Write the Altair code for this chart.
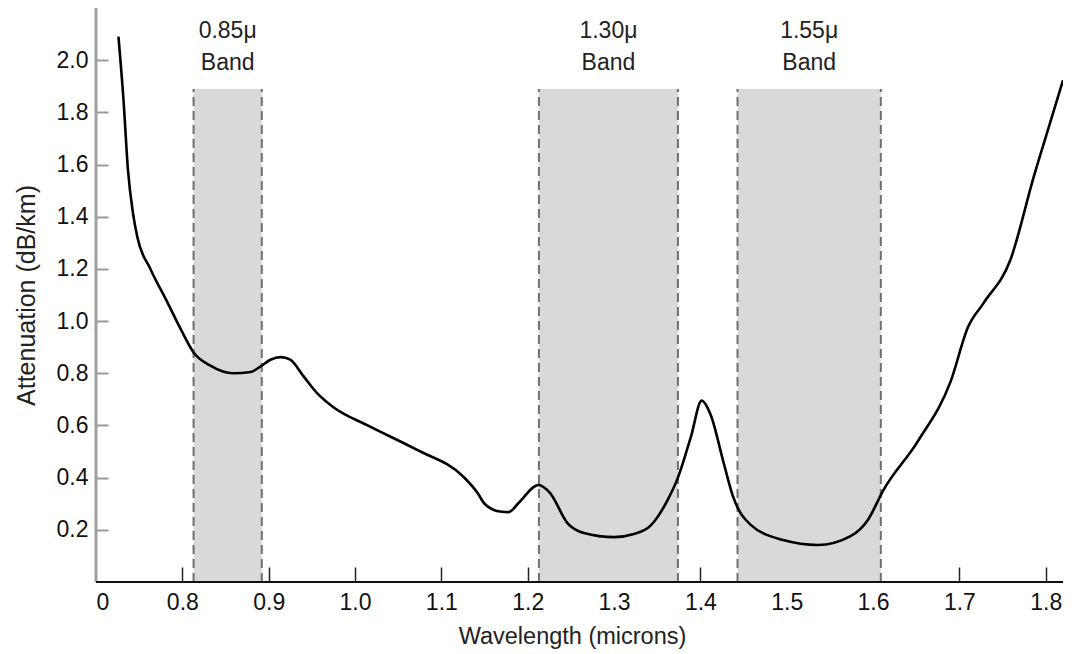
import altair as alt
import pandas as pd

# ---- data ----
wavelength = [0.726, 0.732, 0.737, 0.743, 0.748, 0.763, 0.783, 0.798, 0.813, 0.832,
              0.859, 0.879, 0.890, 0.902, 0.914, 0.925, 0.940, 0.956, 0.975, 1.014,
              1.072, 1.126, 1.142, 1.150, 1.168, 1.178, 1.190, 1.2125, 1.226, 1.246,
              1.265, 1.300, 1.323, 1.342, 1.362, 1.374, 1.389, 1.4015, 1.412, 1.427,
              1.438, 1.458, 1.496, 1.536, 1.574, 1.594, 1.612, 1.652, 1.690, 1.710,
              1.728, 1.759, 1.786, 1.806, 1.820]
attenuation = [2.09, 1.84, 1.58, 1.41, 1.32, 1.20, 1.07, 0.97, 0.88, 0.83,
               0.80, 0.805, 0.825, 0.852, 0.862, 0.852, 0.79, 0.724, 0.670, 0.601,
               0.506, 0.402, 0.341, 0.300, 0.270, 0.268, 0.305, 0.372, 0.341, 0.226,
               0.188, 0.172, 0.184, 0.215, 0.314, 0.400, 0.556, 0.695, 0.640, 0.456,
               0.326, 0.220, 0.161, 0.142, 0.176, 0.238, 0.352, 0.540, 0.770, 0.977,
               1.069, 1.234, 1.552, 1.770, 1.923]

band_start = [0.813, 1.213, 1.443]
band_end = [0.892, 1.374, 1.609]
band_top = 1.89
band_labels = ["0.85μ\nBand", "1.30μ\nBand", "1.55μ\nBand"]

x_ticks = [0.7, 0.8, 0.9, 1.0, 1.1, 1.2, 1.3, 1.4, 1.5, 1.6, 1.7, 1.8]
y_ticks = [0.2, 0.4, 0.6, 0.8, 1.0, 1.2, 1.4, 1.6, 1.8, 2.0]
x_domain = [0.7, 1.82]
y_domain = [0.0, 2.2]

FONT = "Liberation Sans"

curve_df = pd.DataFrame({"wl": wavelength, "att": attenuation})
bands_df = pd.DataFrame({
    "start": band_start,
    "end": band_end,
    "top": [band_top] * len(band_start),
    "bottom": [0.0] * len(band_start),
    "label": band_labels,
})
edges_df = pd.DataFrame({"edge": band_start + band_end,
                         "top": [band_top] * (2 * len(band_start)),
                         "bottom": [0.0] * (2 * len(band_start))})

xs = alt.Scale(domain=x_domain, nice=False, zero=False)
ys = alt.Scale(domain=y_domain, nice=False, zero=False)

x_axis = alt.Axis(
    values=x_ticks,
    labelExpr="datum.value < 0.75 ? '0' : format(datum.value, '.1f')",
    title="Wavelength (microns)",
    domain=False, grid=False,
    offset=-15, tickSize=15, tickWidth=1.5, tickColor="#222",
    tickOpacity={"condition": {"test": "datum.value < 0.75", "value": 0}, "value": 1},
    labelPadding=9, labelFont=FONT, labelFontSize=23, labelColor="#111",
    titleFont=FONT, titleFontSize=23.5, titleFontWeight="normal", titleColor="#222",
    titlePadding=10, titleX=476,
)
y_axis = alt.Axis(
    values=y_ticks, format=".1f",
    title="Attenuation (dB/km)",
    domain=False, grid=False,
    offset=-12, tickSize=12, tickWidth=2, tickColor="#9a9a9a",
    labelPadding=8, labelFont=FONT, labelFontSize=23, labelColor="#111",
    titleFont=FONT, titleFontSize=25, titleFontWeight="normal", titleColor="#222",
    titlePadding=17,
)


def X(field):
    return alt.X(field, scale=xs, axis=x_axis)


def Y(field):
    return alt.Y(field, scale=ys, axis=y_axis)


bands = alt.Chart(bands_df).mark_rect(color="#d9d9d9").encode(
    x=X("start:Q"), x2="end:Q",
    y=Y("bottom:Q"), y2="top:Q",
)

edges = alt.Chart(edges_df).mark_rule(
    color="#707070", strokeWidth=2, strokeDash=[9, 5]
).encode(
    x=X("edge:Q"),
    y=Y("bottom:Q"), y2="top:Q",
)

labels = alt.Chart(bands_df).transform_calculate(
    mid="(datum.start + datum.end) / 2"
).mark_text(
    font=FONT, fontSize=23, color="#222", lineBreak="\n", lineHeight=32,
    baseline="middle", align="center", dy=-58,
).encode(
    x=X("mid:Q"),
    y=Y("top:Q"),
    text="label:N",
)

curve = alt.Chart(curve_df).mark_line(
    color="#000", strokeWidth=2.6, interpolate="monotone", clip=True
).encode(
    x=X("wl:Q"),
    y=Y("att:Q"),
)

y_line = alt.Chart(pd.DataFrame({"v": [x_domain[0]]})).mark_rule(
    color="#a0a0a0", strokeWidth=3
).encode(x=X("v:Q"))

x_line = alt.Chart(pd.DataFrame({"v": [y_domain[0]]})).mark_rule(
    color="#111", strokeWidth=2
).encode(y=Y("v:Q"))

chart = alt.layer(bands, edges, labels, curve, y_line, x_line).properties(
    width=967, height=574,
    autosize=alt.AutoSizeParams(type="none"),
    padding={"left": 88, "top": 0, "right": 0, "bottom": 70},
    background="white",
).configure_view(stroke=None)

chart.save("out.html", embed_options={"renderer": "svg", "actions": False})
